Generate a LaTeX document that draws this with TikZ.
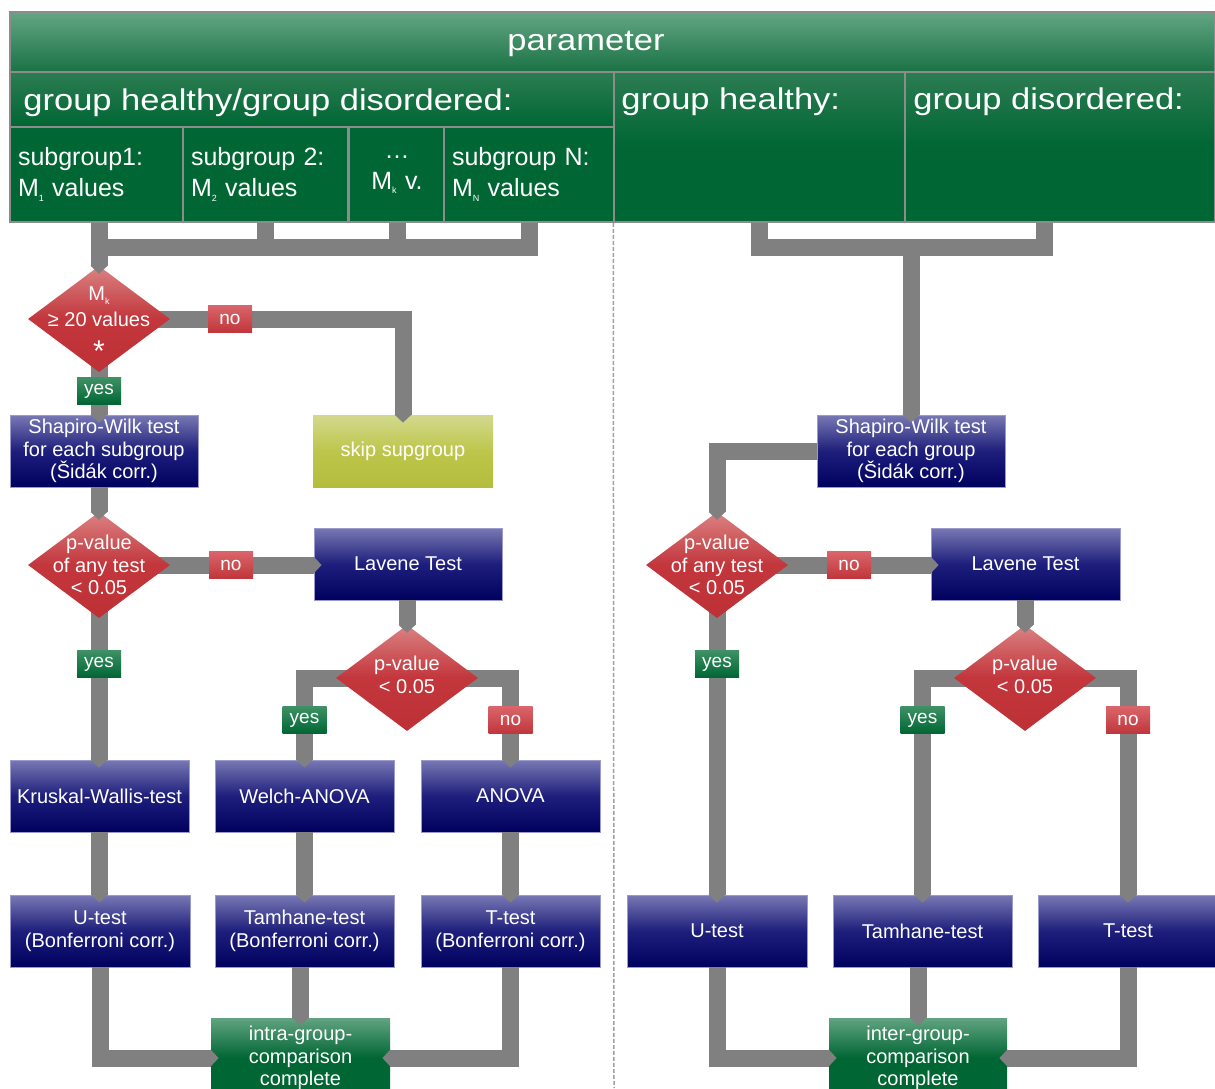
\documentclass[tikz,border=0pt]{standalone}
\usepackage{fontspec}
\setmainfont{Liberation Sans}
\newfontfamily\hdrfont[FakeStretch=1.15]{Liberation Sans}
\usetikzlibrary{shapes.geometric,arrows.meta}
\pgfdeclarelayer{lines}
\pgfdeclarelayer{front}
\pgfsetlayers{main,lines,front}
\definecolor{linegray}{HTML}{808080}
\definecolor{cellgray}{HTML}{8C8C8C}
\definecolor{dgreen}{HTML}{006633}
\definecolor{bannertop}{HTML}{63A584}
\definecolor{bannerbot}{HTML}{1A7244}
\definecolor{rowtop}{HTML}{2C7C52}
\definecolor{bluetop}{HTML}{7878B4}
\definecolor{bluemid}{HTML}{1E1E7C}
\definecolor{bluebot}{HTML}{00005F}
\definecolor{blueedge}{HTML}{9A9ACC}
\definecolor{redtop}{HTML}{DA8282}
\definecolor{redmid}{HTML}{C2363C}
\definecolor{redbot}{HTML}{BD3036}
\definecolor{notop}{HTML}{D9656A}
\definecolor{nobot}{HTML}{C0363B}
\definecolor{yestop}{HTML}{3E9165}
\definecolor{skiptop}{HTML}{D2D98E}
\definecolor{skipmid}{HTML}{BDC64B}
\definecolor{skipbot}{HTML}{B4BD3B}
\definecolor{endtop}{HTML}{62A382}
\definecolor{sepgray}{HTML}{A0A0A0}
\newcommand\sbs[1]{\raisebox{-0.18em}{\fontsize{9}{9}\selectfont #1}}
\newcommand\bigast{\raisebox{-9pt}[0pt][0pt]{\fontsize{30}{26}\selectfont *}}
\tikzset{
  cell/.style={rectangle, draw=cellgray, line width=1.5pt, inner sep=0pt, text=white},
  hdrlab/.style={text=white, font=\hdrfont\fontsize{30}{36}\selectfont, inner sep=0pt},
  subcell/.style={cell, fill=dgreen, minimum height=95, font=\fontsize{25}{31}\selectfont, align=left},
  box/.style={rectangle, minimum width=180, minimum height=72, inner sep=2pt, align=center,
    text=white, font=\fontsize{20}{22.5}\selectfont, draw=blueedge, line width=0.8pt,
    top color=bluetop, bottom color=bluebot, middle color=bluemid},
  skipbox/.style={box, draw=none, top color=skiptop, bottom color=skipbot, middle color=skipmid},
  endbox/.style={box, draw=none, minimum height=80, top color=endtop, bottom color=dgreen, middle color=dgreen},
  dia/.style={diamond, minimum width=142, minimum height=106, inner sep=0pt,
    top color=redtop, bottom color=redbot, middle color=redmid},
  diatxt/.style={text=white, font=\fontsize{20}{22.5}\selectfont, align=center, inner sep=0pt},
  yeslab/.style={rectangle, minimum width=44, minimum height=27, inner sep=0pt, text=white,
    font=\fontsize{19}{20}\selectfont, top color=yestop, bottom color=dgreen},
  nolab/.style={yeslab, top color=notop, bottom color=nobot},
  conn/.style={draw=linegray, line width=17pt, line join=miter,
    -{Triangle[width=17pt,length=8pt,line width=0pt]}, shorten >=-8pt},
  plain/.style={draw=linegray, line width=17pt, line join=miter},
  fromdia/.style={shorten <=-14pt},
  sepline/.style={draw=sepgray, line width=1.5pt, dash pattern=on 4pt off 2pt}
}
\begin{document}
\begin{tikzpicture}[x=1pt,y=-1pt]
\useasboundingbox (0,0) rectangle (1215,1088);
% ---------- header ----------
\node[cell, minimum width=1205, minimum height=60, top color=bannertop, bottom color=bannerbot] (param) at (612.5,42) {};
\node[hdrlab, anchor=base] (paramtxt) at (586,50) {parameter};
\node[cell, minimum width=604, minimum height=55, top color=rowtop, bottom color=dgreen,
  label={[hdrlab, anchor=base west, xshift=14pt, yshift=-39pt]north west:{group healthy/group disordered:}}] (hgd) at (312,99.5) {};
\node[cell, minimum width=291, minimum height=150, top color=rowtop, bottom color=dgreen, middle color=dgreen,
  label={[hdrlab, anchor=base west, xshift=8pt, yshift=-38pt]north west:{group healthy:}}] (gh) at (759.5,147) {};
\node[cell, minimum width=310, minimum height=150, top color=rowtop, bottom color=dgreen, middle color=dgreen,
  label={[hdrlab, anchor=base west, xshift=9pt, yshift=-38pt]north west:{group disordered:}}] (gd) at (1060,147) {};
\node[subcell, minimum width=173, text width=157] (sg1) at (96.5,174.5) {subgroup1:\\M\sbs{1} values};
\node[subcell, minimum width=165, text width=149] (sg2) at (265.5,174.5) {subgroup 2:\\M\sbs{2} values};
\node[subcell, minimum width=96, text width=80, align=center] (sg3) at (397,174.5) {…\\M\sbs{k} v.};
\node[subcell, minimum width=170, text width=154] (sg4) at (529,174.5) {subgroup N:\\M\sbs{N} values};
\coordinate (sepbot) at (614,1088);
\draw[sepline] (gh.south west) -- (sepbot);
% ---------- boxes, left ----------
\node[box, minimum width=188] (sw1) at (104,451) {Shapiro-Wilk test\\for each subgroup\\(Šidák corr.)};
\node[skipbox] (skip) at (403,451) {skip supgroup};
\node[box, minimum width=188] (lav1) at (408,564) {Lavene Test};
\node[box, minimum width=179] (kw) at (99.5,796) {Kruskal-Wallis-test};
\node[box, minimum width=179] (welch) at (304.5,796) {Welch-ANOVA};
\node[box, minimum width=179] (anova) at (510.5,796) {ANOVA};
\node[box, minimum width=180] (ut1) at (100,931) {U-test\\(Bonferroni corr.)};
\node[box, minimum width=179] (tam1) at (304.5,931) {Tamhane-test\\(Bonferroni corr.)};
\node[box, minimum width=179] (tt1) at (510.5,931) {T-test\\(Bonferroni corr.)};
\node[endbox, minimum width=179] (ic) at (300.5,1058) {intra-group-\\comparison\\complete};
% ---------- boxes, right ----------
\node[box, minimum width=188] (sw2) at (911,451) {Shapiro-Wilk test\\for each group\\(Šidák corr.)};
\node[box, minimum width=189] (lav2) at (1025.5,564) {Lavene Test};
\node[box, minimum width=180] (ut2) at (717,931) {U-test};
\node[box, minimum width=179] (tam2) at (922.5,931) {Tamhane-test};
\node[box, minimum width=180] (tt2) at (1128,931) {T-test};
\node[endbox, minimum width=178] (ig) at (918,1058) {inter-group-\\comparison\\complete};
% ---------- diamonds and labels ----------
\begin{pgfonlayer}{front}
\node[dia, label={[diatxt, font=\fontsize{20}{26}\selectfont, yshift=-1pt]center:M\sbs{k}\\≥ 20 values\\\bigast}] (d1) at (99,319) {};
\node[dia, label={[diatxt]center:p-value\\of any test\\< 0.05}] (d2) at (99,565) {};
\node[dia, label={[diatxt, yshift=3pt]center:p-value\\< 0.05}] (d3) at (407,678) {};
\node[dia, label={[diatxt]center:p-value\\of any test\\< 0.05}] (d4) at (717,565) {};
\node[dia, label={[diatxt, yshift=3pt]center:p-value\\< 0.05}] (d5) at (1025,678) {};
\node[nolab] (n1) at (230,319) {no};
\node[yeslab] (y1) at (99,391) {yes};
\node[nolab] (n2) at (231,565) {no};
\node[yeslab] (y2) at (99,664) {yes};
\node[yeslab] (y3) at (304.5,720) {yes};
\node[nolab] (n3) at (510.5,720) {no};
\node[nolab] (n4) at (849,565) {no};
\node[yeslab] (y4) at (717,664) {yes};
\node[yeslab] (y5) at (922.5,720) {yes};
\node[nolab] (n5) at (1128,720) {no};
\end{pgfonlayer}
% ---------- connectors ----------
\begin{pgfonlayer}{lines}
\coordinate (lbar) at (99,247);
\draw[plain] (sg4.south) |- (lbar);
\draw[plain] (sg2.south) -- (sg2.south |- lbar);
\draw[plain] (sg3.south) -- (sg3.south |- lbar);
\draw[conn, fromdia] (d1.east) -| (skip.north);
\draw[conn, fromdia] (d1.south) -- (d1.south |- sw1.north);
\draw[conn, fromdia] (d2.east) -- (d2.east -| lav1.west);
\draw[conn, fromdia] (d2.south) -- (d2.south |- kw.north);
\draw[conn, fromdia] (d3.west) -| (welch.north);
\draw[conn, fromdia] (d3.east) -| (anova.north);
\draw[conn] (kw.south) -- (kw.south |- ut1.north);
\draw[conn] (welch.south) -- (welch.south |- tam1.north);
\draw[conn] (anova.south) -- (anova.south |- tt1.north);
\draw[conn] (ut1.south) |- (ic.west);
\draw[conn] (tam1.south -| ic.north) -- (ic.north);
\draw[conn] (tt1.south) |- (ic.east);
\coordinate (rbar) at (911,247);
\draw[plain] (gh.south) -- ++(0,25) -| ([xshift=-16pt]gd.south);
\draw[conn] (rbar) -- (sw2.north);
\draw[conn, fromdia] (d4.east) -- (d4.east -| lav2.west);
\draw[conn, fromdia] (d4.south) -- (d4.south |- ut2.north);
\draw[conn, fromdia] (d5.west) -| (tam2.north);
\draw[conn, fromdia] (d5.east) -| (tt2.north);
\draw[conn] (ut2.south) |- (ig.west);
\draw[conn] (tam2.south -| ig.north) -- (ig.north);
\draw[conn] (tt2.south) |- (ig.east);
\end{pgfonlayer}
\begin{pgfonlayer}{front}
\draw[conn] (sg1.south -| d1.north) -- (d1.north);
\draw[conn] (sw1.south -| d2.north) -- (d2.north);
\draw[conn] (lav1.south -| d3.north) -- (d3.north);
\draw[conn] (sw2.west) -| (d4.north);
\draw[conn] (lav2.south -| d5.north) -- (d5.north);
\end{pgfonlayer}
\end{tikzpicture}
\end{document}
